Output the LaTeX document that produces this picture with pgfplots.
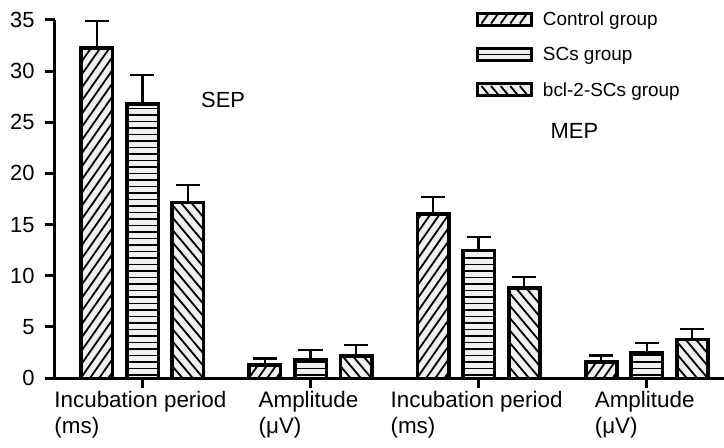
\documentclass[border=0pt]{standalone}
\usepackage{fontspec}
\setmainfont{Liberation Sans}
\usepackage{pgfplots}
\usepackage{pgfplotstable}
\pgfplotsset{compat=1.18}

% x, mean, SD (upper error bar only)
\pgfplotstableread{
x y e
0 32.3 2.6
1 1.3  0.6
2 16.1 1.6
3 1.6  0.6
}\ctrl
\pgfplotstableread{
x y e
0 26.8 2.8
1 1.8  0.9
2 12.5 1.3
3 2.5  0.9
}\scs
\pgfplotstableread{
x y e
0 17.2 1.7
1 2.2  1.0
2 8.8  1.1
3 3.8  1.0
}\bcl

% hatch lines, drawn from the bar bottom (\hb) upwards, bar centre at \xo
\newcommand{\hatchNE}{\foreach \k in {-38,...,4} {\draw[black,line width=1.8bp] ({\xo+\k*9.2bp-16bp},\hb) -- ++(55:450bp);}}
\newcommand{\hatchH}{\foreach \k in {0,...,55} {\draw[black,line width=1.6bp] ({\xo-16bp},{\hb+\k*6.5bp+3bp}) -- ++(32bp,0);}}
\newcommand{\hatchNW}{\foreach \k in {-4,...,38} {\draw[black,line width=1.8bp] ({\xo+\k*10.4bp-16bp},\hb) -- ++(130:450bp);}}

\pgfplotsset{
  barstyle/.style={ybar, bar width=0.19, bar shift=#1, draw=black, line width=3bp, fill=gray!12},
  % hatch + upper error bar of each bar; canvas length = value * 358bp/35
  hatchbar/.style 2 args={
    forget plot, scatter, only marks, mark=*, mark size=0pt,
    visualization depends on={rawy \as \barh},
    visualization depends on={\thisrow{e} \as \erh},
    scatter/@pre marker code/.code={
      \pgfmathsetlengthmacro\hb{-\barh*10.2286bp}
      \pgfmathsetlengthmacro\et{\erh*10.2286bp}
      \def\xo{#1}
      \begin{scope}
        \clip ({\xo-14.4bp},-1.5bp) rectangle ({\xo+14.4bp},\hb);
        #2
      \end{scope}
      \draw[black,line width=2.2bp] (\xo,0bp) -- (\xo,\et);
      \draw[black,line width=2.2bp] ({\xo-12bp},\et) -- ({\xo+12bp},\et);
    },
    scatter/@post marker code/.code={},
  },
}

\begin{document}
\begin{tikzpicture}
\begin{axis}[
    width=669bp, height=358bp, scale only axis,
    xmin=-0.52, xmax=3.46,
    ymin=0, ymax=35,
    ytick={0,5,...,35},
    xtick={0,1,2,3},
    xticklabels={Incubation period\\(ms), Amplitude\\(μV), Incubation period\\(ms), Amplitude\\(μV)},
    axis lines*=left,
    tick pos=left, tick align=outside,
    major tick length=10bp,
    axis line style={line width=3bp},
    every tick/.style={black, line width=3bp},
    /pgf/number format/assume math mode=true,
    yticklabel style={font=\fontsize{22}{26}\selectfont, xshift=-7bp},
    xticklabel style={font=\fontsize{22.5}{26}\selectfont, align=left, xshift=-2bp},
    legend style={at={(0.629,1.03)}, anchor=north west, draw=none, fill=none,
        inner sep=0pt, row sep=16.5bp, column sep=8bp, font=\fontsize{19}{22}\selectfont},
    legend cell align=left,
    clip=false,
  ]
  % Control group
  \addplot[barstyle=-0.271,
    legend image code/.code={
      \draw[black,line width=3bp,fill=gray!12] (0bp,-6bp) rectangle (54bp,6bp);
      \foreach \k in {0,...,4} {\draw[black,line width=1.8bp] ({\k*9.6bp+4bp},-4.5bp) -- ++(55:11bp);}}]
    table[x=x, y=y] {\ctrl};
  \addlegendentry{Control group}
  \addplot[hatchbar={-45.55bp}{\hatchNE}] table[x=x, y=y] {\ctrl};
  % SCs group
  \addplot[barstyle=0,
    legend image code/.code={
      \draw[black,line width=3bp,fill=gray!12] (0bp,-6bp) rectangle (54bp,6bp);
      \draw[black,line width=1.6bp] (1.5bp,0bp) -- (52.5bp,0bp);}]
    table[x=x, y=y] {\scs};
  \addlegendentry{SCs group}
  \addplot[hatchbar={0bp}{\hatchH}] table[x=x, y=y] {\scs};
  % bcl-2-SCs group
  \addplot[barstyle=0.271,
    legend image code/.code={
      \draw[black,line width=3bp,fill=gray!12] (0bp,-6bp) rectangle (54bp,6bp);
      \foreach \k in {0,...,4} {\draw[black,line width=1.8bp] ({\k*9.6bp+11bp},-4.5bp) -- ++(130:11bp);}}]
    table[x=x, y=y] {\bcl};
  \addlegendentry{bcl-2-SCs group}
  \addplot[hatchbar={45.55bp}{\hatchNW}] table[x=x, y=y] {\bcl};

  \node[font=\fontsize{22}{25}\selectfont] at (axis cs:0.48,27.2) {SEP};
  \node[font=\fontsize{22}{25}\selectfont] at (axis cs:2.57,24.2) {MEP};
\end{axis}
\pgfresetboundingbox
\path (-55bp,-70bp) rectangle (669bp,378bp);
\end{tikzpicture}
\end{document}
